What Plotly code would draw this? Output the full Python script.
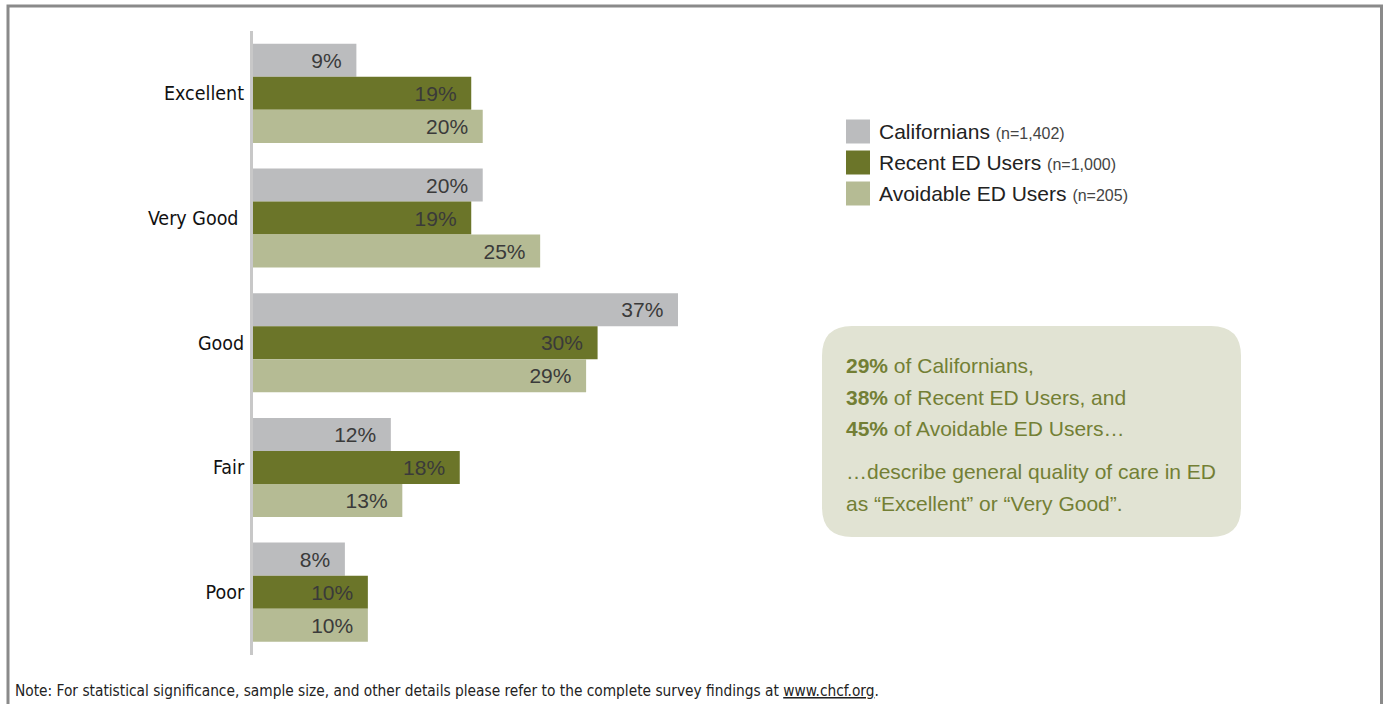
import plotly.graph_objects as go

W, H = 1384, 704

categories = ["Excellent", "Very Good\u00a0", "Good", "Fair", "Poor"]
series_names = ["Californians", "Recent ED Users", "Avoidable ED Users"]
series_n = ["(n=1,402)", "(n=1,000)", "(n=205)"]
californians = [9, 20, 37, 12, 8]
recent_ed = [19, 19, 30, 18, 10]
avoidable_ed = [20, 25, 29, 13, 10]
series_values = [californians, recent_ed, avoidable_ed]
colors = ["#bbbcbe", "#6b7529", "#b5bb94"]

callout_lines = [
    ("29%", " of Californians,"),
    ("38%", " of Recent ED Users, and"),
    ("45%", " of Avoidable ED Users\u2026"),
    ("", "\u2026describe general quality of care in ED"),
    ("", "as \u201cExcellent\u201d or \u201cVery Good\u201d."),
]
note_text = ("Note: For statistical significance, sample size, and other details please refer "
             "to the complete survey findings at <u>www.chcf.org</u>.")

def px_x(p):
    return p / W

def px_y(p):
    return 1 - p / H

VAL_FONT = "Liberation Sans, Arial, sans-serif"
COND_FONT = "DejaVu Sans Condensed, sans-serif"

fig = go.Figure()
for name, vals, col in zip(series_names, series_values, colors):
    fig.add_trace(go.Bar(
        y=categories, x=vals, orientation="h", name=name,
        marker=dict(color=col, line=dict(width=0)),
        text=[f"{v}%\u00a0\u00a0" for v in vals],
        textposition="inside", insidetextanchor="end",
        textfont=dict(family=VAL_FONT, size=21, color="#3a3a3a"),
        constraintext="none", cliponaxis=False,
        hoverinfo="skip", showlegend=False,
    ))

shapes = []
annotations = []

# frame
shapes.append(dict(type="rect", xref="paper", yref="paper",
                   x0=px_x(8), x1=px_x(1381.5), y0=px_y(760), y1=px_y(6),
                   line=dict(color="#8a8a8a", width=3), fillcolor="rgba(0,0,0,0)", layer="below"))

# legend
leg_y = [131.5, 162.5, 193.5]
for name, n, col, yc in zip(series_names, series_n, colors, leg_y):
    shapes.append(dict(type="rect", xref="paper", yref="paper",
                       x0=px_x(846), x1=px_x(870), y0=px_y(yc + 12), y1=px_y(yc - 12),
                       line=dict(width=0), fillcolor=col))
    annotations.append(dict(xref="paper", yref="paper", x=px_x(877), y=px_y(yc),
                            xanchor="left", yanchor="middle", showarrow=False,
                            text=f"{name} <span style='font-size:16px;color:#444'>{n}</span>",
                            font=dict(family=VAL_FONT, size=21, color="#222")))

# callout rounded box
x0, x1, y0, y1, r = 822, 1241, 326, 537, 30
def P(x, y):
    return f"{px_x(x):.6f},{px_y(y):.6f}"
path = (f"M {P(x0 + r, y0)} L {P(x1 - r, y0)} Q {P(x1, y0)} {P(x1, y0 + r)} "
        f"L {P(x1, y1 - r)} Q {P(x1, y1)} {P(x1 - r, y1)} "
        f"L {P(x0 + r, y1)} Q {P(x0, y1)} {P(x0, y1 - r)} "
        f"L {P(x0, y0 + r)} Q {P(x0, y0)} {P(x0 + r, y0)} Z")
shapes.append(dict(type="path", xref="paper", yref="paper", path=path,
                   fillcolor="#e1e3d3", line=dict(width=0), layer="below"))

call_y = [365, 397, 428, 471, 503]
for (bold, rest), yc in zip(callout_lines, call_y):
    txt = (f"<b>{bold}</b>" if bold else "") + rest
    annotations.append(dict(xref="paper", yref="paper", x=px_x(844), y=px_y(yc),
                            xanchor="left", yanchor="middle", showarrow=False,
                            text=txt, font=dict(family=VAL_FONT, size=21, color="#737f35")))

# note
annotations.append(dict(xref="paper", yref="paper", x=px_x(13), y=px_y(691),
                        xanchor="left", yanchor="middle", showarrow=False,
                        text=note_text, font=dict(family=COND_FONT, size=15.3, color="#222")))

fig.update_layout(
    width=W, height=H,
    margin=dict(l=0, r=0, t=0, b=0),
    paper_bgcolor="white", plot_bgcolor="white",
    barmode="group", bargap=0.205, bargroupgap=0,
    showlegend=False,
    xaxis=dict(domain=[px_x(253), px_x(253 + 40 * 425 / 37)], range=[0, 40],
               showgrid=False, zeroline=False, showline=False, showticklabels=False, ticks=""),
    yaxis=dict(domain=[px_y(654.5), px_y(31)], range=[4.5, -0.5], type="category",
               showgrid=False, zeroline=False, showline=True, linecolor="#c8c8c8", linewidth=3,
               ticks="", ticklabelstandoff=2,
               tickfont=dict(family=COND_FONT, size=19.5, color="#111")),
    shapes=shapes, annotations=annotations,
)

fig.write_html("out.html")
